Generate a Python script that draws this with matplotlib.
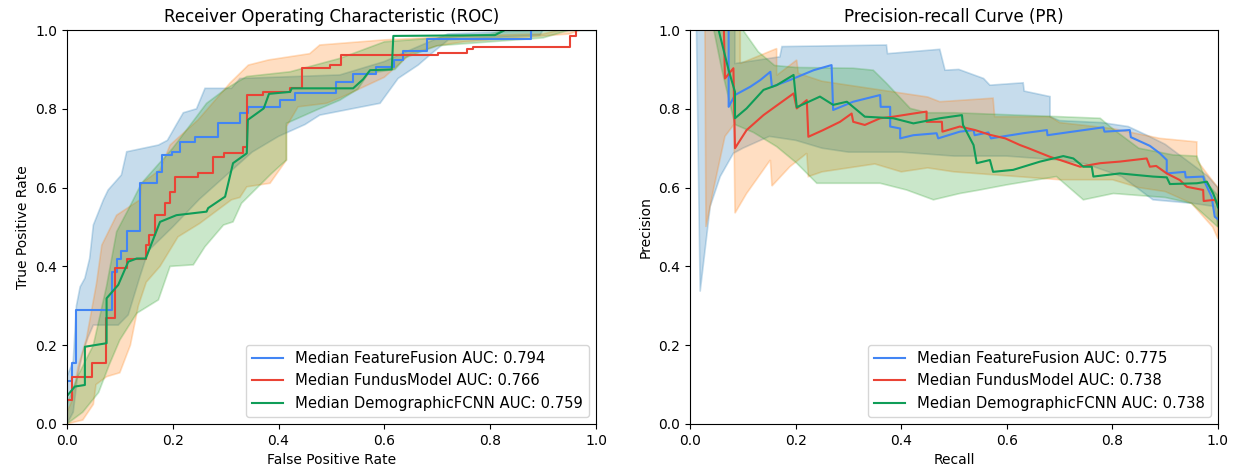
import numpy as np
import matplotlib
matplotlib.use("Agg")
import matplotlib.pyplot as plt

# ---------------- ROC data ----------------
roc_ff_fpr = [0, 0, 0.009, 0.018, 0.086, 0.094, 0.103, 0.113, 0.138, 0.171, 0.179, 0.198, 0.214, 0.242,
              0.285, 0.327, 0.343, 0.403, 0.431, 0.508, 0.54, 0.585, 0.618, 0.636, 0.68, 0.878, 1.0]
roc_ff_tpr = [0, 0.11, 0.154, 0.29, 0.387, 0.42, 0.44, 0.49, 0.611, 0.64, 0.683, 0.691, 0.717, 0.729,
              0.763, 0.79, 0.805, 0.822, 0.84, 0.869, 0.888, 0.907, 0.925, 0.947, 0.976, 1.0, 1.0]

roc_fm_fpr = [0, 0, 0.009, 0.047, 0.074, 0.091, 0.113, 0.149, 0.156, 0.166, 0.185, 0.195, 0.204, 0.248,
              0.277, 0.296, 0.333, 0.34, 0.37, 0.422, 0.444, 0.497, 0.519, 0.702, 0.756, 0.768, 0.951,
              0.962, 1.0]
roc_fm_tpr = [0, 0.061, 0.12, 0.154, 0.268, 0.395, 0.42, 0.454, 0.48, 0.53, 0.562, 0.59, 0.628, 0.636,
              0.678, 0.687, 0.704, 0.835, 0.843, 0.852, 0.903, 0.911, 0.937, 0.942, 0.951, 0.957, 0.985,
              1.0, 1.0]

roc_dm_pts = [(0, 0), (0, 0.07), (0.002, 0.074), (0.015, 0.095), (0.034, 0.099), (0.034, 0.196),
              (0.075, 0.205), (0.075, 0.319), (0.097, 0.353), (0.116, 0.412), (0.132, 0.42), (0.149, 0.42),
              (0.176, 0.513), (0.207, 0.53), (0.264, 0.539), (0.267, 0.548), (0.299, 0.577), (0.314, 0.662),
              (0.34, 0.687), (0.342, 0.772), (0.372, 0.801), (0.382, 0.838), (0.422, 0.843), (0.425, 0.852),
              (0.541, 0.852), (0.56, 0.875), (0.573, 0.898), (0.614, 0.9), (0.617, 0.985), (0.809, 0.987),
              (0.828, 1.0), (1.0, 1.0)]

roc_ff_upper = [(0, 0.12), (0.012, 0.16), (0.018, 0.30), (0.025, 0.348), (0.034, 0.37), (0.043, 0.42),
                (0.05, 0.505), (0.069, 0.569), (0.078, 0.594), (0.103, 0.632), (0.113, 0.691), (0.173, 0.708),
                (0.19, 0.72), (0.207, 0.76), (0.22, 0.79), (0.245, 0.80), (0.261, 0.852), (0.311, 0.852),
                (0.327, 0.877), (0.516, 0.886), (0.6, 0.92), (0.65, 0.95), (0.72, 0.99), (0.9, 1.0), (1.0, 1.0)]
roc_ff_lower = [(0, 0.0), (0.012, 0.03), (0.02, 0.12), (0.03, 0.18), (0.04, 0.22), (0.05, 0.251),
                (0.097, 0.251), (0.116, 0.277), (0.138, 0.374), (0.154, 0.44), (0.2, 0.5), (0.25, 0.57),
                (0.3, 0.63), (0.35, 0.69), (0.4, 0.73), (0.45, 0.76), (0.478, 0.784), (0.592, 0.814),
                (0.626, 0.877), (0.664, 0.911), (0.689, 0.94), (0.721, 0.975), (0.894, 0.987), (0.9, 1.0),
                (1.0, 1.0)]

roc_fm_upper = [(0, 0.03), (0.01, 0.06), (0.021, 0.145), (0.037, 0.217), (0.056, 0.357), (0.066, 0.454),
                (0.094, 0.53), (0.138, 0.569), (0.141, 0.611), (0.176, 0.645), (0.195, 0.708), (0.248, 0.772),
                (0.308, 0.865), (0.343, 0.911), (0.381, 0.924), (0.459, 0.94), (0.478, 0.962), (0.516, 0.966),
                (0.6, 0.975), (0.75, 0.985), (0.9, 0.99), (0.93, 1.0), (1.0, 1.0)]
roc_fm_lower = [(0, 0.0), (0.03, 0.01), (0.05, 0.05), (0.055, 0.1), (0.075, 0.12), (0.1, 0.13), (0.12, 0.2),
                (0.135, 0.3), (0.15, 0.36), (0.176, 0.4), (0.21, 0.475), (0.251, 0.509), (0.311, 0.569),
                (0.327, 0.575), (0.34, 0.602), (0.384, 0.611), (0.415, 0.67), (0.415, 0.755), (0.437, 0.805),
                (0.491, 0.814), (0.52, 0.83), (0.6, 0.88), (0.65, 0.94), (0.7, 0.96), (0.75, 0.97),
                (0.95, 0.99), (0.97, 1.0), (1.0, 1.0)]

roc_dm_upper = [(0, 0.05), (0.02, 0.12), (0.05, 0.2), (0.075, 0.35), (0.094, 0.488), (0.119, 0.552),
                (0.141, 0.611), (0.2, 0.7), (0.245, 0.78), (0.264, 0.814), (0.302, 0.852), (0.34, 0.882),
                (0.422, 0.894), (0.516, 0.928), (0.56, 0.95), (0.6, 0.97), (0.8, 0.99), (0.83, 1.0), (1.0, 1.0)]
roc_dm_lower = [(0, 0.0), (0.03, 0.03), (0.06, 0.08), (0.08, 0.15), (0.1, 0.213), (0.132, 0.281),
                (0.173, 0.315), (0.195, 0.4), (0.239, 0.404), (0.261, 0.45), (0.296, 0.505), (0.314, 0.513),
                (0.33, 0.56), (0.387, 0.636), (0.415, 0.67), (0.415, 0.763), (0.472, 0.797), (0.516, 0.822),
                (0.55, 0.85), (0.57, 0.89), (0.62, 0.9), (0.64, 0.93), (0.66, 0.94), (0.7, 0.96), (0.9, 0.98),
                (0.95, 1.0), (1.0, 1.0)]

# ---------------- PR data ----------------
pr_ff_pts = [(0.073, 1.0), (0.073, 0.805), (0.085, 0.835), (0.114, 0.856), (0.133, 0.873), (0.152, 0.894),
             (0.155, 0.856), (0.189, 0.873), (0.234, 0.898), (0.268, 0.911), (0.271, 0.797), (0.309, 0.818),
             (0.36, 0.835), (0.361, 0.805), (0.379, 0.805), (0.379, 0.755), (0.398, 0.75), (0.398, 0.725),
             (0.423, 0.733), (0.467, 0.738), (0.47, 0.725), (0.511, 0.742), (0.537, 0.746), (0.539, 0.733),
             (0.565, 0.74), (0.57, 0.725), (0.631, 0.738), (0.676, 0.746), (0.677, 0.733), (0.783, 0.753),
             (0.785, 0.742), (0.833, 0.746), (0.835, 0.728), (0.871, 0.706), (0.89, 0.687), (0.903, 0.67),
             (0.903, 0.636), (0.9375, 0.64), (0.939, 0.626), (0.972, 0.628), (0.975, 0.614), (0.988, 0.577),
             (0.994, 0.526), (1.0, 0.52)]
pr_fm_pts = [(0.064, 1.0), (0.066, 0.877), (0.082, 0.903), (0.085, 0.7), (0.107, 0.746), (0.139, 0.784),
             (0.17, 0.814), (0.196, 0.839), (0.202, 0.801), (0.221, 0.822), (0.224, 0.729), (0.252, 0.746),
             (0.284, 0.767), (0.306, 0.788), (0.309, 0.767), (0.331, 0.759), (0.36, 0.776), (0.385, 0.78),
             (0.423, 0.788), (0.448, 0.793), (0.448, 0.767), (0.477, 0.767), (0.478, 0.742), (0.511, 0.755),
             (0.54, 0.746), (0.568, 0.734), (0.597, 0.725), (0.625, 0.708), (0.641, 0.7), (0.682, 0.678),
             (0.701, 0.67), (0.739, 0.653), (0.777, 0.662), (0.814, 0.666), (0.865, 0.674), (0.871, 0.653),
             (0.883, 0.655), (0.903, 0.636), (0.928, 0.619), (0.941, 0.602), (0.972, 0.594), (0.973, 0.566),
             (0.994, 0.569), (1.0, 0.555)]
pr_dm_pts = [(0.054, 1.0), (0.073, 0.898), (0.085, 0.843), (0.085, 0.776), (0.107, 0.801), (0.139, 0.848),
             (0.164, 0.86), (0.196, 0.886), (0.202, 0.804), (0.246, 0.831), (0.271, 0.81), (0.297, 0.818),
             (0.331, 0.78), (0.385, 0.776), (0.423, 0.763), (0.473, 0.776), (0.515, 0.784), (0.517, 0.759),
             (0.537, 0.708), (0.543, 0.662), (0.568, 0.67), (0.574, 0.64), (0.612, 0.645), (0.663, 0.666),
             (0.707, 0.68), (0.726, 0.674), (0.745, 0.653), (0.761, 0.653), (0.764, 0.628), (0.814, 0.636),
             (0.877, 0.628), (0.903, 0.626), (0.909, 0.609), (0.96, 0.611), (0.979, 0.615), (0.991, 0.585),
             (0.997, 0.564), (1.0, 0.55)]

pr_ff_upper = [(0.012, 1.0), (0.085, 1.0), (0.085, 0.915), (0.17, 0.932), (0.174, 0.958), (0.372, 0.962),
               (0.374, 0.94), (0.473, 0.951), (0.483, 0.898), (0.509, 0.9), (0.556, 0.877), (0.568, 0.86),
               (0.631, 0.866), (0.633, 0.845), (0.682, 0.831), (0.682, 0.78), (0.7, 0.77), (0.78, 0.765),
               (0.83, 0.755), (0.87, 0.73), (0.9, 0.71), (0.95, 0.66), (0.98, 0.63), (1.0, 0.6)]
pr_ff_lower = [(0.012, 1.0), (0.019, 0.336), (0.038, 0.552), (0.057, 0.628), (0.082, 0.687), (0.1, 0.70),
               (0.15, 0.73), (0.2, 0.72), (0.25, 0.70), (0.3, 0.69), (0.4, 0.69), (0.5, 0.68), (0.6, 0.68),
               (0.7, 0.67), (0.75, 0.66), (0.818, 0.628), (0.877, 0.569), (0.953, 0.56), (0.994, 0.552),
               (1.0, 0.5)]

pr_fm_upper = [(0.028, 1.0), (0.095, 1.0), (0.095, 0.915), (0.164, 0.953), (0.164, 0.885), (0.202, 0.924),
               (0.205, 0.89), (0.25, 0.87), (0.3, 0.86), (0.35, 0.85), (0.4, 0.84), (0.45, 0.83),
               (0.473, 0.818), (0.574, 0.827), (0.577, 0.78), (0.682, 0.78), (0.7, 0.765), (0.8, 0.75),
               (0.89, 0.725), (0.96, 0.716), (0.96, 0.67), (0.979, 0.636), (1.0, 0.6)]
pr_fm_lower = [(0.028, 1.0), (0.03, 0.5), (0.045, 0.6), (0.066, 0.73), (0.083, 0.76), (0.085, 0.535),
               (0.107, 0.585), (0.152, 0.67), (0.155, 0.604), (0.189, 0.653), (0.221, 0.687), (0.224, 0.628),
               (0.25, 0.64), (0.3, 0.65), (0.35, 0.66), (0.4, 0.64), (0.45, 0.65), (0.5, 0.64), (0.6, 0.63),
               (0.7, 0.62), (0.8, 0.62), (0.85, 0.6), (0.9, 0.59), (0.95, 0.56), (0.99, 0.5), (1.0, 0.47)]

pr_dm_upper = [(0.045, 1.0), (0.1, 1.0), (0.129, 0.945), (0.16, 0.91), (0.2, 0.905), (0.309, 0.903),
               (0.347, 0.898), (0.372, 0.865), (0.417, 0.801), (0.45, 0.79), (0.5, 0.79), (0.6, 0.785),
               (0.7, 0.78), (0.777, 0.776), (0.8, 0.75), (0.85, 0.7), (0.915, 0.683), (0.96, 0.68),
               (0.979, 0.611), (1.0, 0.58)]
pr_dm_lower = [(0.045, 1.0), (0.06, 0.9), (0.085, 0.76), (0.12, 0.74), (0.164, 0.704), (0.202, 0.662),
               (0.24, 0.611), (0.36, 0.611), (0.41, 0.594), (0.461, 0.569), (0.511, 0.585), (0.549, 0.594),
               (0.6, 0.607), (0.694, 0.628), (0.745, 0.569), (0.802, 0.585), (0.85, 0.58), (0.9, 0.575),
               (0.95, 0.56), (1.0, 0.5)]

model_names = ["FeatureFusion", "FundusModel", "DemographicFCNN"]
roc_auc = [0.794, 0.766, 0.759]
pr_auc = [0.775, 0.738, 0.738]
line_colors = ["#4285F4", "#EA4335", "#0F9D58"]
band_colors = ["#1f77b4", "#ff7f0e", "#2ca02c"]


def unzip(pts):
    a = np.array(pts, dtype=float)
    return a[:, 0], a[:, 1]


def band(ax, upper, lower, color):
    ux, uy = unzip(upper)
    lx, ly = unzip(lower)
    ax.fill(np.concatenate([ux, lx[::-1]]), np.concatenate([uy, ly[::-1]]),
            color=color, alpha=0.25, lw=1.2)


fig = plt.figure(figsize=(12.39, 4.69), dpi=100)
ax1 = fig.add_axes([0.054, 0.096, 0.427, 0.840])
ax2 = fig.add_axes([0.557, 0.096, 0.426, 0.840])

# ROC
for up, lo, c in zip([roc_ff_upper, roc_fm_upper, roc_dm_upper],
                     [roc_ff_lower, roc_fm_lower, roc_dm_lower], band_colors):
    band(ax1, up, lo, c)
ax1.plot(roc_ff_fpr, roc_ff_tpr, drawstyle="steps-post", color=line_colors[0], lw=1.5,
         label=f"Median {model_names[0]} AUC: {roc_auc[0]:.3f}")
ax1.plot(roc_fm_fpr, roc_fm_tpr, drawstyle="steps-post", color=line_colors[1], lw=1.5,
         label=f"Median {model_names[1]} AUC: {roc_auc[1]:.3f}")
dx, dy = unzip(roc_dm_pts)
ax1.plot(dx, dy, color=line_colors[2], lw=1.5,
         label=f"Median {model_names[2]} AUC: {roc_auc[2]:.3f}")
ax1.set_xlim(0, 1)
ax1.set_ylim(0, 1)
ax1.set_title("Receiver Operating Characteristic (ROC)")
ax1.set_xlabel("False Positive Rate")
ax1.set_ylabel("True Positive Rate")
ax1.legend(loc="lower right", fontsize=10.6, handlelength=2.1)

# PR
for up, lo, c in zip([pr_ff_upper, pr_fm_upper, pr_dm_upper],
                     [pr_ff_lower, pr_fm_lower, pr_dm_lower], band_colors):
    band(ax2, up, lo, c)
for pts, c, name, auc in zip([pr_ff_pts, pr_fm_pts, pr_dm_pts], line_colors, model_names, pr_auc):
    x, y = unzip(pts)
    ax2.plot(x, y, color=c, lw=1.5, label=f"Median {name} AUC: {auc:.3f}")
ax2.set_xlim(0, 1)
ax2.set_ylim(0, 1)
ax2.set_title("Precision-recall Curve (PR)")
ax2.set_xlabel("Recall")
ax2.set_ylabel("Precision")
ax2.legend(loc="lower right", fontsize=10.6, handlelength=2.1)

fig.savefig("out.png", dpi=100)
